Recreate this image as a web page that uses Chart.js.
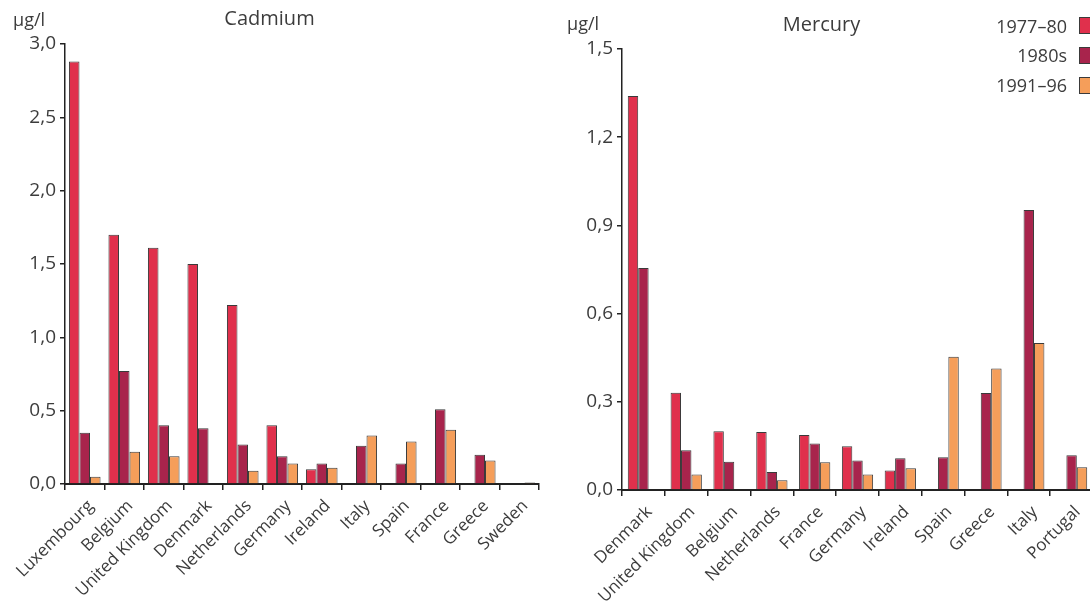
<!DOCTYPE html>
<html>
<head>
<meta charset="utf-8">
<script src="https://cdn.jsdelivr.net/npm/chart.js@4.4.1/dist/chart.umd.min.js"></script>
<style>
  html, body { margin: 0; padding: 0; background: #fff; width: 1090px; height: 605px; overflow: hidden; position: relative; }
  canvas { position: absolute; top: 0; }
  #c1 { left: 0; }
  #c2 { left: 550px; }
  .unit, .leg { position: absolute; font-family: "Open Sans", sans-serif; font-weight: 400; color: #3c3c3c; font-size: 18px; line-height: 22px; }
  .leg { text-align: right; width: 120px; }
  .box { position: absolute; width: 17px; height: 17px; box-sizing: border-box; border: 1px solid #3a3a3a; }
</style>
</head>
<body>
<canvas id="c1" width="545" height="605"></canvas>
<canvas id="c2" width="550" height="605"></canvas>
<div class="unit" style="left:13px; top:8px;">µg/l</div>
<div class="unit" style="left:567px; top:12px;">µg/l</div>
<div class="leg" style="left:947px; top:15px;">1977–80</div>
<div class="leg" style="left:947px; top:44px;">1980s</div>
<div class="leg" style="left:947px; top:74px;">1991–96</div>
<div class="box" style="left:1079px; top:17px; background:#e0304c;"></div>
<div class="box" style="left:1079px; top:47px; background:#a8244c;"></div>
<div class="box" style="left:1079px; top:77px; background:#f59e5a;"></div>
<script>
// ---- Data ----
const seriesNames = ['1977–80', '1980s', '1991–96'];
const seriesColors = ['#e0304c', '#a8244c', '#f59e5a'];

const cadmiumCountries = ['Luxembourg', 'Belgium', 'United Kingdom', 'Denmark', 'Netherlands', 'Germany', 'Ireland', 'Italy', 'Spain', 'France', 'Greece', 'Sweden'];
const cadmium1977 = [2.88, 1.70, 1.61, 1.50, 1.22, 0.40, 0.10, null, null, null, null, null];
const cadmium1980s = [0.35, 0.77, 0.40, 0.38, 0.27, 0.19, 0.14, 0.26, 0.14, 0.51, 0.20, null];
const cadmium1991 = [0.05, 0.22, 0.19, null, 0.09, 0.14, 0.11, 0.33, 0.29, 0.37, 0.16, 0.01];
const cadmiumTicks = { max: 3.0, step: 0.5 };

const mercuryCountries = ['Denmark', 'United Kingdom', 'Belgium', 'Netherlands', 'France', 'Germany', 'Ireland', 'Spain', 'Greece', 'Italy', 'Portugal'];
const mercury1977 = [1.34, 0.331, 0.20, 0.197, 0.187, 0.149, 0.066, null, null, null, null];
const mercury1980s = [0.755, 0.135, 0.096, 0.061, 0.158, 0.10, 0.108, 0.111, 0.33, 0.952, 0.118];
const mercury1991 = [null, 0.053, null, 0.033, 0.094, 0.053, 0.074, 0.453, 0.413, 0.50, 0.077];
const mercuryTicks = { max: 1.5, step: 0.3 };

// ---- Chart builder ----
const FONT = "'Open Sans', sans-serif";
const TEXT = '#3c3c3c';
const AXIS = '#222';

function makeChart(id, title, labels, values, ticks, opts) {
  const datasets = values.map((v, i) => ({
    label: seriesNames[i],
    data: v,
    backgroundColor: seriesColors[i],
    borderColor: '#3a3a3a',
    borderWidth: 1,
    categoryPercentage: opts.catPct,
    barPercentage: 1.0
  }));
  return new Chart(document.getElementById(id), {
    type: 'bar',
    data: { labels, datasets },
    options: {
      responsive: false,
      animation: false,
      layout: { padding: { left: 0, right: opts.padRight, top: 0, bottom: 0 } },
      plugins: {
        legend: { display: false },
        tooltip: { enabled: false },
        title: {
          display: true,
          text: title,
          color: TEXT,
          font: { family: FONT, size: 20, weight: '400' },
          padding: { top: opts.titleTop, bottom: opts.titleBottom }
        }
      },
      scales: {
        x: {
          offset: true,
          grid: { offset: true, drawOnChartArea: false, drawTicks: true, tickLength: 6, color: AXIS, lineWidth: 1.5 },
          border: { display: true, color: AXIS, width: 2 },
          ticks: {
            color: TEXT, font: { family: FONT, size: 17, weight: '400' },
            maxRotation: 45, minRotation: 45, autoSkip: false, padding: 6, labelOffset: 6
          },
          afterFit: s => { s.height = opts.xHeight; }
        },
        y: {
          min: 0, max: ticks.max,
          grid: { drawOnChartArea: false, drawTicks: true, tickLength: 5, color: AXIS, lineWidth: 1.5 },
          border: { display: true, color: AXIS, width: 1.5 },
          ticks: {
            stepSize: ticks.step,
            color: TEXT, font: { family: FONT, size: 19, weight: '400' },
            padding: 4,
            callback: v => Number(v).toFixed(1).replace('.', ',')
          },
          afterFit: s => { s.width = opts.yWidth; }
        }
      }
    }
  });
}

makeChart('c1', 'Cadmium', cadmiumCountries, [cadmium1977, cadmium1980s, cadmium1991], cadmiumTicks,
  { catPct: 0.8, padRight: 6, yWidth: 65, xHeight: 121, titleTop: 7, titleBottom: 13 });
makeChart('c2', 'Mercury', mercuryCountries, [mercury1977, mercury1980s, mercury1991], mercuryTicks,
  { catPct: 0.73, padRight: 7, yWidth: 72, xHeight: 115, titleTop: 13, titleBottom: 12 });
</script>
</body>
</html>
